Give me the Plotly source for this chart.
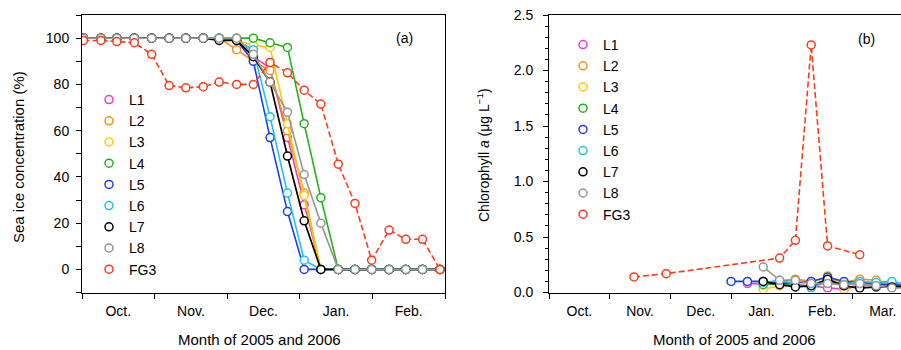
import plotly.graph_objects as go

# ---------------- data: panel (a) sea ice concentration (%) ----------------
ice_x = [0.02, 0.26, 0.48, 0.72, 0.96, 1.20, 1.43, 1.67, 1.89, 2.13, 2.36,
         2.59, 2.83, 3.06, 3.29, 3.53, 3.76, 3.99, 4.23, 4.46, 4.69, 4.93]
ice_L1 = [100, 100, 100, 100, 100, 100, 100, 100, 100, 99, 92, 87, 57, 28, 0, 0, 0, 0, 0, 0, 0, 0]
ice_L2 = [100, 100, 100, 100, 100, 100, 100, 100, 100, 95, 90, 86, 60, 33, 0, 0, 0, 0, 0, 0, 0, 0]
ice_L3 = [100, 100, 100, 100, 100, 100, 100, 100, 100, 99, 97, 96, 63, 32, 0, 0, 0, 0, 0, 0, 0, 0]
ice_L4 = [100, 100, 100, 100, 100, 100, 100, 100, 100, 100, 100, 98, 96, 63, 31, 0, 0, 0, 0, 0, 0, 0]
ice_L5 = [100, 100, 100, 100, 100, 100, 100, 100, 100, 99, 90, 57, 25, 0, 0, 0, 0, 0, 0, 0, 0, 0]
ice_L6 = [100, 100, 100, 100, 100, 100, 100, 100, 100, 99, 95, 66, 33, 4, 0, 0, 0, 0, 0, 0, 0, 0]
ice_L7 = [100, 100, 100, 100, 100, 100, 100, 100, 99, 99, 92, 81, 49, 21, 0, 0, 0, 0, 0, 0, 0, 0]
ice_L8 = [100, 100, 100, 100, 100, 100, 100, 100, 100, 100, 93, 81, 68, 41, 20, 0, 0, 0, 0, 0, 0, 0]
ice_FG3 = [99, 99, 98.5, 98, 93, 79.5, 78.5, 79, 81, 80, 80, 89.5, 85, 77.5, 71.5,
           45.5, 28.5, 4, 17, 13, 13, 0]

# ---------------- data: panel (b) chlorophyll a (ug/L) ----------------
chl_x_L5 = [3.00, 3.27, 3.53, 3.80, 4.06, 4.32, 4.59, 4.86, 5.12, 5.39, 5.65, 5.92]
chl_L5 = [0.10, 0.10, 0.10, 0.08, 0.09, 0.10, 0.14, 0.10, 0.09, 0.08, 0.07, 0.06]
chl_x_L1 = [3.27, 3.53, 3.80, 4.06, 4.32, 4.59, 4.86, 5.12, 5.39, 5.65, 5.92]
chl_L1 = [0.08, 0.08, 0.07, 0.07, 0.06, 0.04, 0.03, 0.06, 0.07, 0.06, 0.05]
chl_x_L2 = [3.53, 3.80, 4.06, 4.32, 4.59, 4.86, 5.12, 5.39, 5.65, 5.92]
chl_L2 = [0.09, 0.10, 0.12, 0.10, 0.13, 0.09, 0.12, 0.11, 0.08, 0.07]
chl_x_L3 = [3.53, 3.80, 4.06, 4.32, 4.59, 4.86, 5.12, 5.39, 5.65, 5.92]
chl_L3 = [0.03, 0.06, 0.07, 0.09, 0.15, 0.03, 0.08, 0.06, 0.05, 0.05]
chl_x_L4 = [3.53, 3.80, 4.06, 4.32, 4.59, 4.86, 5.12, 5.39, 5.65, 5.92]
chl_L4 = [0.07, 0.08, 0.06, 0.06, 0.09, 0.08, 0.09, 0.07, 0.07, 0.06]
chl_x_L6 = [3.53, 3.80, 4.06, 4.32, 4.59, 4.86, 5.12, 5.39, 5.65, 5.92]
chl_L6 = [0.09, 0.11, 0.08, 0.04, 0.10, 0.07, 0.10, 0.09, 0.10, 0.07]
chl_x_L7 = [3.53, 3.80, 4.06, 4.32, 4.59, 4.86, 5.12, 5.39, 5.65, 5.92]
chl_L7 = [0.10, 0.07, 0.05, 0.06, 0.12, 0.06, 0.04, 0.05, 0.05, 0.05]
chl_x_L8 = [3.53, 3.80, 4.06, 4.32, 4.59, 4.86, 5.12, 5.39, 5.65, 5.92]
chl_L8 = [0.23, 0.11, 0.11, 0.08, 0.08, 0.07, 0.08, 0.06, 0.04, 0.04]
chl_x_FG3 = [1.40, 1.93, 3.80, 4.06, 4.32, 4.59, 5.12]
chl_FG3 = [0.14, 0.17, 0.31, 0.47, 2.23, 0.42, 0.34]

series_names = ["L1", "L2", "L3", "L4", "L5", "L6", "L7", "L8", "FG3"]
colors = {"L1": "#F03CC0", "L2": "#F7901E", "L3": "#FFC800", "L4": "#22B21E",
          "L5": "#1E3CF0", "L6": "#1EC3F0", "L7": "#000000", "L8": "#969696",
          "FG3": "#FF3A1A"}

month_ticks = [0, 1, 2, 3, 4, 5, 6]
month_label_pos_a = [0.5, 1.5, 2.5, 3.5, 4.5]
month_labels_a = ["Oct.", "Nov.", "Dec.", "Jan.", "Feb."]
month_label_pos_b = [0.5, 1.5, 2.5, 3.5, 4.5, 5.5]
month_labels_b = ["Oct.", "Nov.", "Dec.", "Jan.", "Feb.", "Mar."]

ice_data = {"L1": ice_L1, "L2": ice_L2, "L3": ice_L3, "L4": ice_L4, "L5": ice_L5,
            "L6": ice_L6, "L7": ice_L7, "L8": ice_L8, "FG3": ice_FG3}
chl_data = {"L1": (chl_x_L1, chl_L1), "L2": (chl_x_L2, chl_L2), "L3": (chl_x_L3, chl_L3),
            "L4": (chl_x_L4, chl_L4), "L5": (chl_x_L5, chl_L5), "L6": (chl_x_L6, chl_L6),
            "L7": (chl_x_L7, chl_L7), "L8": (chl_x_L8, chl_L8), "FG3": (chl_x_FG3, chl_FG3)}

FONT = "Arial, Liberation Sans, sans-serif"
W, H = 901, 350

fig = go.Figure()

def add_series(name, x, y, xa, ya):
    fig.add_trace(go.Scatter(
        x=x, y=y, mode="lines+markers", name=name, showlegend=False,
        xaxis=xa, yaxis=ya, cliponaxis=True,
        line=dict(color=colors[name], width=1.7 if name == "L7" else 1.6,
                  dash="6px,3px" if name == "FG3" else "solid"),
        marker=dict(symbol="circle", size=8, color="white",
                    line=dict(color=colors[name], width=1.5))))

# panel (a)
for n in series_names:
    add_series(n, ice_x, ice_data[n], "x", "y")
# panel (b)
for n in series_names:
    add_series(n, chl_data[n][0], chl_data[n][1], "x2", "y2")

# legend-only entries (marker symbol only)
for n in series_names:
    for lg, xa, ya in (("legend", "x", "y"), ("legend2", "x2", "y2")):
        fig.add_trace(go.Scatter(
            x=[None], y=[None], mode="markers", name=n, legend=lg,
            xaxis=xa, yaxis=ya, showlegend=True,
            marker=dict(symbol="circle", size=8, color="white",
                        line=dict(color=colors[n], width=1.5))))

ydom = [1 - 292.5 / H, 1 - 15 / H]
axis_common = dict(showline=True, linecolor="black", linewidth=1, showgrid=False,
                   zeroline=False, automargin=False,
                   tickfont=dict(family=FONT, size=14, color="black"))

def ann(text, x, y, angle=0, size=14):
    return dict(text=text, x=x / W, y=1 - y / H, xref="paper", yref="paper",
                xanchor="center", yanchor="middle", showarrow=False, borderpad=0,
                textangle=angle, font=dict(family=FONT, size=size, color="black"))

fig.update_layout(
    width=W, height=H, margin=dict(l=0, r=0, t=0, b=0, autoexpand=False),
    paper_bgcolor="white", plot_bgcolor="white",
    font=dict(family=FONT, size=14, color="black"),
    xaxis=dict(domain=[82 / W, 445 / W], range=[0, 5],
               tickmode="array", tickvals=month_label_pos_a, ticktext=month_labels_a,
               ticks="outside", ticklen=5, tickcolor="rgba(0,0,0,0)",
               ticklabelstandoff=1,
               minor=dict(tickmode="array", tickvals=month_ticks, ticks="outside",
                          ticklen=5, tickcolor="black"),
               mirror=True, anchor="y", **axis_common),
    yaxis=dict(domain=ydom, range=[-10, 110], tickmode="array",
               tickvals=[0, 20, 40, 60, 80, 100], ticks="outside", ticklen=5,
               tickcolor="black", ticklabelstandoff=4,
               minor=dict(tickmode="array", tickvals=[-10, 10, 30, 50, 70, 90, 110],
                          ticks="outside", ticklen=5, tickcolor="black"),
               mirror=True, anchor="x", **axis_common),
    xaxis2=dict(domain=[549 / W, 1.0], range=[0, 5.8],
                tickmode="array", tickvals=month_label_pos_b, ticktext=month_labels_b,
                ticks="outside", ticklen=5, tickcolor="rgba(0,0,0,0)",
                ticklabelstandoff=1,
                minor=dict(tickmode="array", tickvals=month_ticks, ticks="outside",
                           ticklen=5, tickcolor="black"),
                mirror=True, anchor="y2", **axis_common),
    yaxis2=dict(domain=ydom, range=[0, 2.5], tickmode="array",
                tickvals=[0, 0.5, 1.0, 1.5, 2.0, 2.5], tickformat=".1f",
                ticks="outside", ticklen=5, tickcolor="black", ticklabelstandoff=7,
                minor=dict(dtick=0.1, tick0=0, ticks="outside", ticklen=3,
                           tickcolor="black"),
                mirror=True, anchor="x2", **axis_common),
    legend=dict(x=89 / W, y=1 - 84 / H, xanchor="left", yanchor="top",
                bgcolor="rgba(0,0,0,0)", borderwidth=0, tracegroupgap=0,
                itemwidth=30, font=dict(family=FONT, size=14)),
    legend2=dict(x=563 / W, y=1 - 29 / H, xanchor="left", yanchor="top",
                 bgcolor="rgba(0,0,0,0)", borderwidth=0, tracegroupgap=0,
                 itemwidth=30, font=dict(family=FONT, size=14)),
    annotations=[
        ann("(a)", 404, 38),
        ann("(b)", 866, 39),
        ann("Month of 2005 and 2006", 259, 339.5, size=15),
        ann("Month of 2005 and 2006", 734, 339.5, size=15),
        ann("Sea ice concentration (%)", 18, 157, -90, size=15),
        ann("Chlorophyll <i>a</i> (μg L<sup>−1</sup>)", 483, 155, -90),
    ],
)

fig.write_html("out.html")
